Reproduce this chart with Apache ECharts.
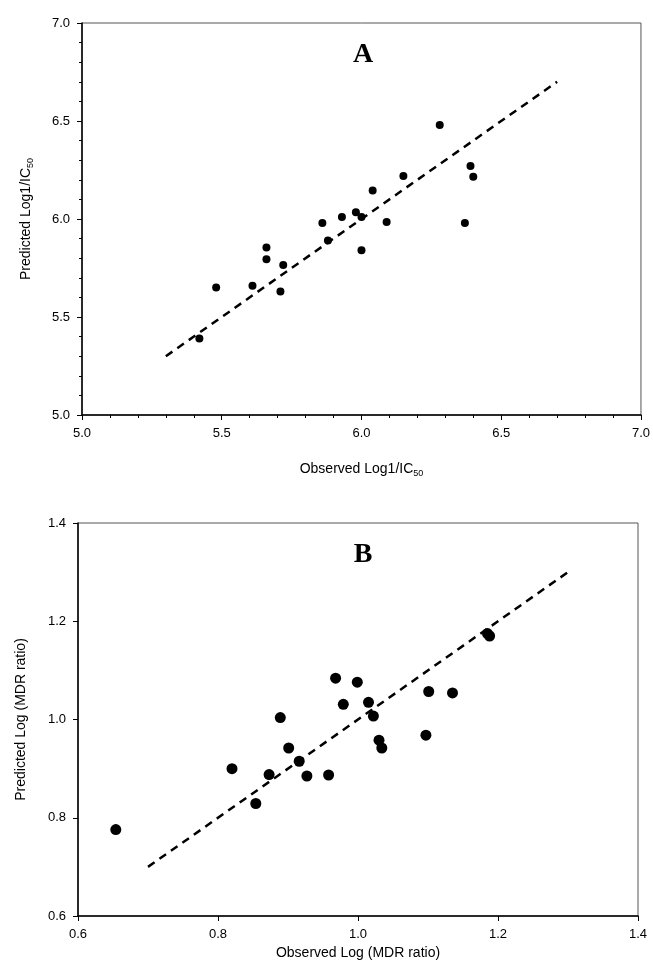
<!DOCTYPE html>
<html>
<head>
<meta charset="utf-8">
<script src="https://cdn.jsdelivr.net/npm/echarts@6/dist/echarts.min.js"></script>
<style>
  html, body { margin: 0; padding: 0; background: #fff; }
  #chart { width: 653px; height: 980px; }
</style>
</head>
<body>
<div id="chart"></div>
<script>
var chart = echarts.init(document.getElementById("chart"));

// panel A: observed vs predicted Log1/IC50
let obsA = [5.42, 5.48, 5.61, 5.66, 5.66, 5.72, 5.71, 5.86, 5.88, 5.93, 5.98, 6.00, 6.00, 6.04, 6.09, 6.15, 6.28, 6.37, 6.39, 6.40];
let predA = [5.39, 5.65, 5.66, 5.855, 5.795, 5.765, 5.63, 5.98, 5.89, 6.01, 6.035, 6.01, 5.84, 6.145, 5.985, 6.22, 6.48, 5.98, 6.27, 6.215];
let fitA = [[5.3, 5.3], [6.7, 6.7]];

// panel B: observed vs predicted Log (MDR ratio)
let obsB = [0.654, 0.82, 0.854, 0.873, 0.889, 0.901, 0.916, 0.927, 0.958, 0.968, 0.979, 0.999, 1.015, 1.022, 1.030, 1.034, 1.097, 1.101, 1.135, 1.185, 1.188];
let predB = [0.776, 0.900, 0.829, 0.888, 1.004, 0.942, 0.915, 0.885, 0.887, 1.084, 1.031, 1.076, 1.035, 1.007, 0.958, 0.942, 0.968, 1.057, 1.054, 1.175, 1.170];
let fitB = [[0.7, 0.7], [1.3, 1.3]];

function pairs(xs, ys) {
  return xs.map(function (x, i) { return [x, ys[i]]; });
}

var font = "Liberation Sans";
var sub = {
  t: { fontFamily: font, fontSize: 14, color: "#000" },
  s: { fontFamily: font, fontSize: 9, color: "#000", padding: [8, 0, 0, 0] }
};

function valueAxis(idx, min, max, step, minorSplit, name, gap) {
  return {
    type: "value",
    gridIndex: idx,
    min: min,
    max: max,
    interval: step,
    name: name,
    nameLocation: "middle",
    nameGap: gap,
    nameTextStyle: { fontFamily: font, fontSize: 14, color: "#000", rich: sub },
    axisLine: { show: true, onZero: false, lineStyle: { color: "#000", width: 1.5 } },
    axisTick: { show: true, length: 5, lineStyle: { color: "#000" } },
    minorTick: { show: minorSplit > 0, splitNumber: minorSplit || 5, length: 3, lineStyle: { color: "#000" } },
    splitLine: { show: false },
    axisLabel: {
      fontFamily: font, fontSize: 13, color: "#000", margin: 12,
      formatter: function (v) { return v.toFixed(1); }
    }
  };
}

chart.setOption({
  animation: false,
  title: [
    { text: "A", left: 358, top: 36, textAlign: "center",
      textStyle: { fontFamily: "Liberation Serif", fontWeight: "bold", fontSize: 28, color: "#000" } },
    { text: "B", left: 358, top: 536, textAlign: "center",
      textStyle: { fontFamily: "Liberation Serif", fontWeight: "bold", fontSize: 28, color: "#000" } }
  ],
  grid: [
    { left: 82, top: 23, width: 560, height: 392, show: true, borderColor: "#555", borderWidth: 1 },
    { left: 78, top: 523, width: 560, height: 393, show: true, borderColor: "#555", borderWidth: 1 }
  ],
  xAxis: [
    valueAxis(0, 5, 7, 0.5, 5, "{t|Observed Log1/IC}{s|50}", 46),
    valueAxis(1, 0.6, 1.4, 0.2, 0, "Observed Log (MDR ratio)", 30)
  ],
  yAxis: [
    valueAxis(0, 5, 7, 0.5, 5, "{t|Predicted Log1/IC}{s|50}", 47),
    valueAxis(1, 0.6, 1.4, 0.2, 0, "Predicted Log (MDR ratio)", 50)
  ],
  series: [
    {
      type: "line", xAxisIndex: 0, yAxisIndex: 0, data: fitA,
      symbol: "none", lineStyle: { color: "#000", width: 2.5, type: [8, 6] }
    },
    {
      type: "scatter", xAxisIndex: 0, yAxisIndex: 0, data: pairs(obsA, predA),
      symbolSize: 8, itemStyle: { color: "#000", opacity: 1 }
    },
    {
      type: "line", xAxisIndex: 1, yAxisIndex: 1, data: fitB,
      symbol: "none", lineStyle: { color: "#000", width: 2.5, type: [8, 6] }
    },
    {
      type: "scatter", xAxisIndex: 1, yAxisIndex: 1, data: pairs(obsB, predB),
      symbolSize: 11, itemStyle: { color: "#000", opacity: 1 }
    }
  ]
});
</script>
</body>
</html>
